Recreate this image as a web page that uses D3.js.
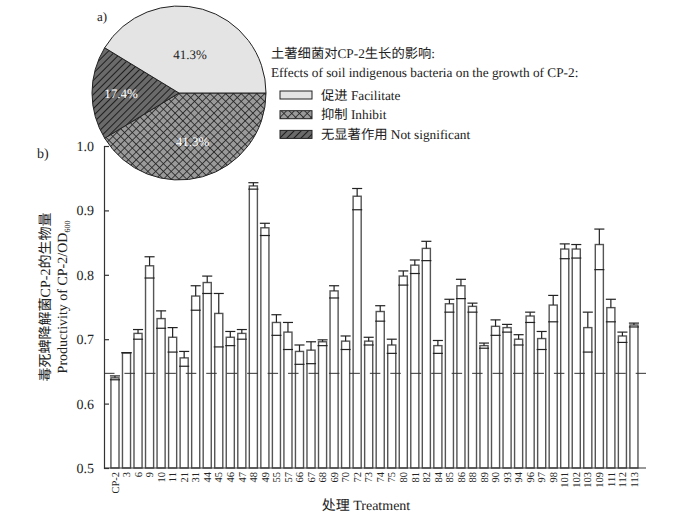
<!DOCTYPE html>
<html>
<head>
<meta charset="utf-8">
<script src="https://cdn.jsdelivr.net/npm/d3@7"></script>
<style>
  body { margin: 0; background: #fff; }
  text { font-family: "Liberation Serif", "Noto Sans CJK SC", serif; fill: #222; text-rendering: geometricPrecision; }
</style>
</head>
<body>
<svg id="plot" width="688" height="516"></svg>
<script>
const svg = d3.select('#plot');

// Data

const treatments = ['CP-2', '3', '6', '9', '10', '11', '21', '31', '44', '45', '46', '47', '48', '49',
    '55', '57', '66', '67', '68', '69', '70', '72', '73', '74', '75', '80', '81', '82', '84', '85',
    '86', '88', '89', '90', '93', '94', '96', '97', '98', '101', '102', '103', '109', '111', '112', '113'];

const means = [0.640, 0.679, 0.709, 0.814, 0.732, 0.703, 0.671, 0.767, 0.788, 0.740, 0.703, 0.709, 0.938, 0.873,
    0.726, 0.711, 0.681, 0.683, 0.696, 0.775, 0.697, 0.922, 0.697, 0.743, 0.691, 0.798, 0.815, 0.841, 0.690, 0.755,
    0.783, 0.751, 0.690, 0.720, 0.718, 0.700, 0.736, 0.701, 0.753, 0.840, 0.840, 0.718, 0.847, 0.749, 0.705, 0.722];

// upper / lower ends of the error bars
const errHigh = [0.643, 0.679, 0.715, 0.828, 0.744, 0.718, 0.681, 0.783, 0.798, 0.771, 0.712, 0.715, 0.943, 0.880,
    0.738, 0.726, 0.691, 0.696, 0.699, 0.783, 0.705, 0.934, 0.703, 0.752, 0.700, 0.806, 0.823, 0.852, 0.698, 0.762,
    0.793, 0.756, 0.694, 0.730, 0.723, 0.707, 0.742, 0.712, 0.768, 0.848, 0.847, 0.742, 0.871, 0.762, 0.711, 0.725];

const errLow = [0.637, 0.679, 0.700, 0.795, 0.717, 0.680, 0.658, 0.745, 0.771, 0.688, 0.690, 0.700, 0.933, 0.861,
    0.706, 0.684, 0.661, 0.662, 0.690, 0.764, 0.684, 0.901, 0.691, 0.728, 0.678, 0.784, 0.802, 0.822, 0.678, 0.742,
    0.763, 0.742, 0.686, 0.706, 0.711, 0.691, 0.726, 0.684, 0.727, 0.825, 0.826, 0.680, 0.808, 0.727, 0.695, 0.719];

const controlLevel = 0.647;
const yTicks = [0.5, 0.6, 0.7, 0.8, 0.9, 1.0];

const pieNames = ['抑制 Inhibit', '无显著作用 Not significant', '促进 Facilitate'];
const piePercents = [41.3, 17.4, 41.3];
const legendOrder = [2, 0, 1];

// Patterns

const defs = svg.append('defs');

const cross = defs.append('pattern')
    .attr('id', 'cross')
    .attr('patternUnits', 'userSpaceOnUse')
    .attr('width', 5.5).attr('height', 5.5)
    .attr('patternTransform', 'rotate(45)');
cross.append('rect').attr('width', 5.5).attr('height', 5.5).attr('fill', '#9a9a9a');
cross.append('line').attr('x1', 0).attr('y1', 0).attr('x2', 5.5).attr('y2', 0)
    .attr('stroke', '#222').attr('stroke-width', 1.6);
cross.append('line').attr('x1', 0).attr('y1', 0).attr('x2', 0).attr('y2', 5.5)
    .attr('stroke', '#222').attr('stroke-width', 1.6);

const hatch = defs.append('pattern')
    .attr('id', 'hatch')
    .attr('patternUnits', 'userSpaceOnUse')
    .attr('width', 5).attr('height', 5)
    .attr('patternTransform', 'rotate(45)');
hatch.append('rect').attr('width', 5).attr('height', 5).attr('fill', '#6a6a6a');
hatch.append('line').attr('x1', 0).attr('y1', 0).attr('x2', 0).attr('y2', 5)
    .attr('stroke', '#1e1e1e').attr('stroke-width', 2);

const pieFills = ['url(#cross)', 'url(#hatch)', '#e4e4e4'];
const pieLabelColors = ['#fff', '#fff', '#222'];
const pieLabelRadii = [0.575, 0.667, 0.466];

// Bar chart (b)

const plotLeft = 104, plotRight = 646, plotTop = 146, plotBottom = 468;

const xScale = d3.scaleBand()
    .domain(treatments)
    .range([109.2, 639.7])
    .paddingInner(0.3)
    .paddingOuter(0.15);

const yScale = d3.scaleLinear()
    .domain([0.5, 1.0])
    .range([plotBottom, plotTop]);

const g = svg.append('g');

// y axis, ticks pointing inward
const yAxis = d3.axisLeft(yScale)
    .tickValues(yTicks)
    .tickFormat(d3.format('.1f'))
    .tickSize(-5)
    .tickPadding(10);

const yAxisG = g.append('g')
    .attr('transform', `translate(${plotLeft}, 0)`)
    .call(yAxis);
yAxisG.selectAll('.domain').attr('stroke', '#333').attr('stroke-width', 1.2);
yAxisG.selectAll('.tick line').attr('stroke', '#333').attr('stroke-width', 1.2);
yAxisG.selectAll('.tick text')
    .attr('font-size', '14px')
    .attr('font-family', '"Liberation Serif", serif')
    .attr('fill', '#222');

const bw = xScale.bandwidth();

g.selectAll('rect.bar').data(treatments)
    .enter().append('rect')
        .attr('class', 'bar')
        .attr('x', d => xScale(d))
        .attr('y', (d, i) => yScale(means[i]))
        .attr('width', bw)
        .attr('height', (d, i) => plotBottom - yScale(means[i]))
        .attr('fill', '#fff')
        .attr('stroke', '#555')
        .attr('stroke-width', 1.4);

// error bars
const errG = g.append('g')
    .attr('stroke', '#222')
    .attr('stroke-width', 1.2);

treatments.forEach((d, i) => {
    const cx = xScale(d) + bw / 2;
    const capW = bw + 2;
    errG.append('line')
        .attr('x1', cx).attr('x2', cx)
        .attr('y1', yScale(means[i])).attr('y2', yScale(errHigh[i]));
    errG.append('line')
        .attr('x1', cx - capW / 2).attr('x2', cx + capW / 2)
        .attr('y1', yScale(errHigh[i])).attr('y2', yScale(errHigh[i]));
    errG.append('line')
        .attr('x1', cx - capW / 2).attr('x2', cx + capW / 2)
        .attr('y1', yScale(errLow[i])).attr('y2', yScale(errLow[i]));
});

// x axis
g.append('line')
    .attr('x1', plotLeft).attr('x2', plotRight)
    .attr('y1', plotBottom).attr('y2', plotBottom)
    .attr('stroke', '#333')
    .attr('stroke-width', 1.2);

g.selectAll('text.xlab').data(treatments)
    .enter().append('text')
        .attr('class', 'xlab')
        .attr('transform', d => `translate(${xScale(d) + bw / 2}, ${plotBottom + 4}) rotate(-90)`)
        .attr('dy', '0.35em')
        .attr('text-anchor', 'end')
        .attr('font-size', '10.5px')
        .text(d => d);

// control level
g.append('line')
    .attr('x1', plotLeft).attr('x2', plotRight)
    .attr('y1', yScale(controlLevel)).attr('y2', yScale(controlLevel))
    .attr('stroke', '#333')
    .attr('stroke-width', 1)
    .attr('stroke-dasharray', '10.5,9.95');

g.append('text')
    .attr('x', 366)
    .attr('y', 510)
    .attr('text-anchor', 'middle')
    .attr('font-size', '14px')
    .text('处理 Treatment');

const yTitle = g.append('text')
    .attr('transform', 'translate(50, 297) rotate(-90)')
    .attr('text-anchor', 'middle')
    .attr('font-size', '14px');
yTitle.append('tspan').attr('x', 0).attr('dy', 0).text('毒死蜱降解菌CP-2的生物量');

const yTitle2 = g.append('text')
    .attr('transform', 'translate(67, 297) rotate(-90)')
    .attr('text-anchor', 'middle')
    .attr('font-size', '14px');
yTitle2.append('tspan').text('Productivity of CP-2/OD');
yTitle2.append('tspan').attr('font-size', '8px').attr('dy', 3).text('600');

g.append('text')
    .attr('x', 37).attr('y', 158)
    .attr('font-size', '14px')
    .text('b)');

// Pie chart (a)

const pieG = svg.append('g')
    .attr('transform', 'translate(179, 93)');

const pie = d3.pie()
    .sort(null)
    .startAngle(Math.PI / 2)
    .endAngle(Math.PI / 2 + 2 * Math.PI);

const arcs = pie(piePercents);
const radius = 87;
const arc = d3.arc().innerRadius(0).outerRadius(radius);

pieG.selectAll('path').data(arcs)
    .enter().append('path')
        .attr('d', arc)
        .attr('fill', (d, i) => pieFills[i])
        .attr('stroke', '#222')
        .attr('stroke-width', 1);

pieG.selectAll('text.pct').data(arcs)
    .enter().append('text')
        .attr('class', 'pct')
        .attr('transform', (d, i) => {
            const r = radius * pieLabelRadii[i];
            const [x, y] = d3.arc().innerRadius(r).outerRadius(r).centroid(d);
            return `translate(${x}, ${y})`;
        })
        .attr('text-anchor', 'middle')
        .attr('dy', '0.35em')
        .attr('font-size', '13px')
        .style('fill', (d, i) => pieLabelColors[i])
        .text(d => d.data.toFixed(1) + '%');

svg.append('text')
    .attr('x', 97).attr('y', 21)
    .attr('font-size', '13px')
    .text('a)');

// Legend
const legend = svg.append('g');
legend.append('text')
    .attr('x', 271).attr('y', 58)
    .attr('font-size', '13.3px')
    .text('土著细菌对CP-2生长的影响:');
legend.append('text')
    .attr('x', 271).attr('y', 77)
    .attr('font-size', '13.3px')
    .text('Effects of soil indigenous bacteria on the growth of CP-2:');

legendOrder.forEach((k, j) => {
    const y = 91 + j * 19.7;
    legend.append('rect')
        .attr('x', 280).attr('y', y)
        .attr('width', 32).attr('height', 8)
        .attr('fill', pieFills[k])
        .attr('stroke', '#222')
        .attr('stroke-width', 1);
    legend.append('text')
        .attr('x', 321).attr('y', y + 4)
        .attr('dy', '0.35em')
        .attr('font-size', '13.3px')
        .text(pieNames[k]);
});
</script>
</body>
</html>
